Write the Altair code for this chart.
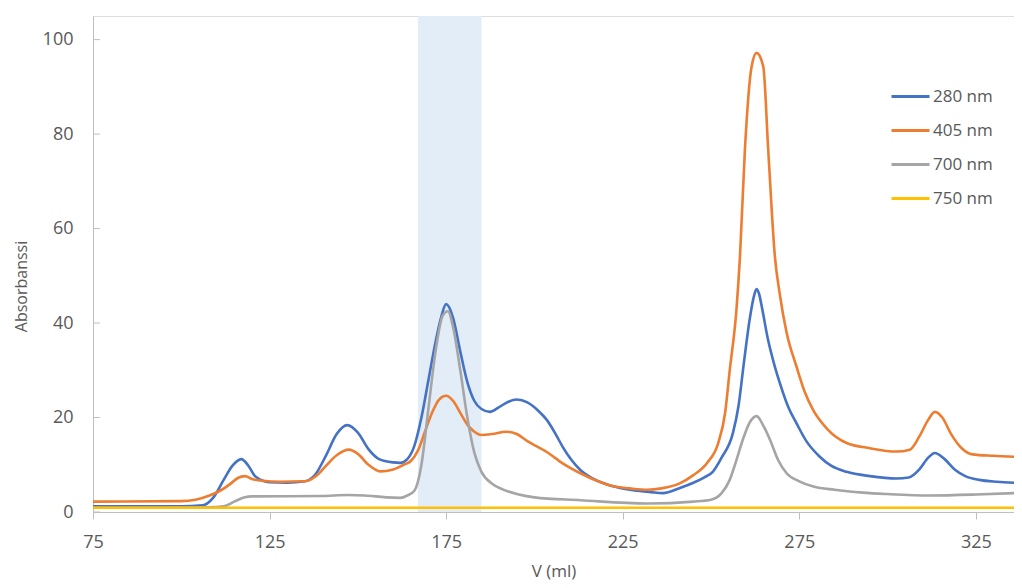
import altair as alt
import pandas as pd

# ---- data ----
x280 = [75, 100, 106, 109, 112, 114.5, 117, 119, 121, 125, 130, 135, 138, 141, 144, 147, 150, 153, 156,
        160, 162, 164, 166, 168, 170, 172, 173.5, 175, 177, 179, 181, 183, 185, 187.4, 190, 192.5, 195,
        198, 201, 203.5, 206, 208, 210.5, 213, 217, 222, 228, 233, 236.4, 241.2, 245, 248, 250.5, 253,
        256.2, 257.8, 259.3, 261, 262.2, 262.9, 263.6, 264.5, 266, 268, 269.5, 272, 274.2, 277, 280.8, 284,
        288.4, 295, 302.5, 306, 309, 311.5, 313.4, 316, 319, 322, 326, 331, 335.8]
y280 = [1.2, 1.2, 1.4, 3.0, 6.8, 9.8, 11.2, 9.8, 7.5, 6.3, 6.2, 6.5, 8.0, 12.0, 16.5, 18.4, 16.8, 13.3, 11.2,
        10.5, 10.4, 11.2, 14.0, 20.0, 28.0, 36.0, 41.0, 44.0, 41.0, 34.0, 27.5, 23.5, 21.8, 21.2, 22.2, 23.3, 23.8,
        23.2, 21.5, 19.5, 16.5, 13.8, 11.0, 8.9, 6.9, 5.5, 4.6, 4.2, 4.0, 5.1, 6.2, 7.3, 8.5, 11.5,
        16.7, 22.5, 31.5, 41.0, 45.8, 47.2, 46.2, 43.0, 37.0, 31.0, 27.3, 22.0, 18.8, 15.0, 11.7, 9.8,
        8.5, 7.6, 7.1, 7.3, 9.0, 11.5, 12.5, 11.3, 9.0, 7.6, 6.8, 6.4, 6.2]

x405 = [75, 100, 104, 108, 111, 114, 116, 118, 120, 123, 128, 135, 138, 141, 144, 147.5, 150, 153, 156.3,
        160, 163, 165, 167, 169, 171, 173, 175, 177, 179, 181, 183, 185, 188, 192, 195, 198, 203.5, 208,
        213, 218, 222, 227, 232, 236, 241, 245, 249, 252, 254, 255.3, 257.2, 258.2, 259.6, 261.5, 262.9,
        264.8, 266.2, 268.1, 269.5, 271.4, 274.2, 276.5, 278.9, 283, 288.4, 295, 302.5, 306.3, 309, 311.5,
        313.4, 315.5, 318, 321, 324, 330, 335.8]
y405 = [2.2, 2.3, 2.6, 3.5, 4.5, 6.0, 7.2, 7.6, 7.0, 6.6, 6.4, 6.5, 7.5, 9.8, 12.0, 13.2, 12.3, 10.0, 8.6,
        9.0, 10.0, 10.8, 13.0, 17.0, 21.0, 23.8, 24.6, 23.5, 21.0, 18.5, 17.0, 16.3, 16.5, 17.0, 16.5, 15.0, 12.7, 10.3,
        8.2, 6.5, 5.5, 5.0, 4.7, 5.0, 6.0, 7.8, 10.5, 14.5, 21.0, 30.0, 42.8, 54.0, 76.7, 94.3, 97.2,
        94.3, 76.7, 54.0, 46.0, 38.0, 30.8, 25.5, 21.6, 17.5, 14.6, 13.5, 12.8, 13.2, 16.0, 19.5,
        21.2, 20.0, 16.5, 13.5, 12.2, 11.9, 11.7]

x700 = [75, 108, 112, 115, 118, 120, 140, 147, 152, 158, 162, 164, 166, 168, 170, 172, 174, 175.5, 177,
        179, 181, 183, 185, 188, 191, 195, 200, 213, 232, 245, 250, 253, 255.3, 257, 259, 261, 262.9,
        265, 266.7, 269, 271.4, 275, 279, 285, 293, 300, 312, 325, 335.8]
y700 = [0.9, 1.0, 1.2, 2.2, 3.1, 3.3, 3.4, 3.6, 3.5, 3.1, 3.0, 3.5, 4.5, 10.0, 22.0, 34.0, 41.5, 42.5, 39.0,
        30.0, 20.0, 12.5, 8.5, 6.0, 4.8, 3.8, 3.1, 2.5, 1.8, 2.2, 2.6, 4.0, 6.8, 10.5, 15.3, 19.0, 20.3,
        18.0, 15.3, 11.0, 8.2, 6.5, 5.4, 4.7, 4.1, 3.8, 3.5, 3.7, 4.0]

x750 = [75, 125, 175, 225, 275, 335.8]
y750 = [0.9, 0.9, 0.9, 0.9, 0.9, 0.9]

series_names = ["280 nm", "405 nm", "700 nm", "750 nm"]
series_colors = ["#4472C4", "#ED7D31", "#A5A5A5", "#FFC000"]

shade_start = [167]
shade_end = [185]

x_ticks = [75, 125, 175, 225, 275, 325]
y_ticks = [0, 20, 40, 60, 80, 100]

# ---- build tables ----
rows = []
for name, xs, ys in zip(series_names, [x280, x405, x700, x750], [y280, y405, y700, y750]):
    for i, (a, b) in enumerate(zip(xs, ys)):
        rows.append({"x": a, "y": b, "series": name, "order": i})
lines_df = pd.DataFrame(rows)
shade_df = pd.DataFrame({"x": shade_start, "x2": shade_end})
yt_df = pd.DataFrame({"y": y_ticks})

W, H = 921, 496
FONT = "Open Sans"
TXT = "#595959"
AX = "#BFBFBF"

xscale = alt.Scale(domain=[75, 335.8], nice=False, zero=False)
yscale = alt.Scale(domain=[0, 105], nice=False)

shade = alt.Chart(shade_df).mark_rect(color="#E3EDF8").encode(
    x=alt.X("x:Q", scale=xscale, title="V (ml)"),
    x2="x2:Q",
    y=alt.value(0),
    y2=alt.value(H),
)

lines = alt.Chart(lines_df).mark_line(strokeWidth=2.6, interpolate="monotone").encode(
    x=alt.X("x:Q", scale=xscale, title="V (ml)",
            axis=alt.Axis(values=x_ticks, grid=False, tickSize=7, tickColor=AX, domainColor=AX,
                          labelPadding=14, labelFontSize=18, labelColor=TXT, labelFont=FONT,
                          labelFlush=False,
                          titleFont=FONT, titleFontSize=17, titleColor=TXT, titleFontWeight="normal",
                          titleY=59, titleBaseline="middle")),
    y=alt.Y("y:Q", scale=yscale, title="Absorbanssi",
            axis=alt.Axis(values=y_ticks, grid=False, tickSize=0, domainColor=AX,
                          labelPadding=20, labelFontSize=18, labelColor=TXT, labelFont=FONT,
                          titleFont=FONT, titleFontSize=16, titleColor=TXT, titleFontWeight="normal",
                          titleX=-72, titleY=270, titleAngle=270, titleBaseline="middle")),
    color=alt.Color("series:N", scale=alt.Scale(domain=series_names, range=series_colors),
                    legend=alt.Legend(title=None, orient="none", legendX=797, legendY=60,
                                      symbolType="stroke", symbolSize=1444, symbolStrokeWidth=3,
                                      labelFontSize=17, labelColor=TXT, labelFont=FONT,
                                      labelOffset=2, rowPadding=5)),
    order="order:Q",
)

yt = alt.Chart(yt_df).mark_rule(color=AX, strokeWidth=1).encode(
    y=alt.Y("y:Q", scale=yscale, title="Absorbanssi"),
    x=alt.value(0),
    x2=alt.value(7),
)

chart = alt.layer(shade, yt, lines).properties(
    width=W, height=H,
    autosize=alt.AutoSizeParams(type="none"),
    padding={"left": 85, "top": 8, "right": 0, "bottom": 68},
).configure_view(stroke=None).configure(background="white")

chart.save("out.html", embed_options={"renderer": "svg", "actions": False})
